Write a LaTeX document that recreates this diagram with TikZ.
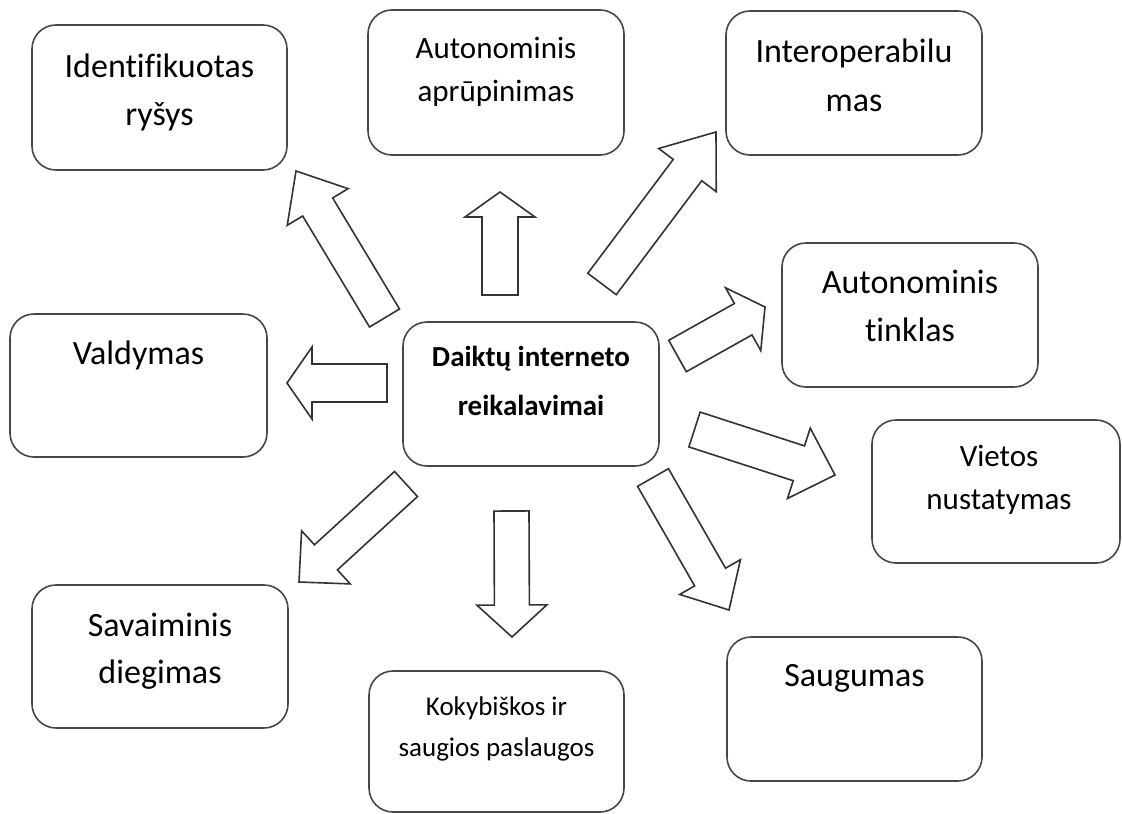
\documentclass[tikz,border=0pt]{standalone}
\usepackage{fontspec}
\setmainfont{Carlito}[Ligatures=NoCommon]
\usetikzlibrary{calc}
\tikzset{
  boxnode/.style={draw=black!72, line width=1.6pt, rounded corners=24pt, fill=white, inner sep=0pt},
  lbl/.style={anchor=base, inner sep=0pt, text=black},
  blockarr/.style={draw=black!80, line width=1.6pt, fill=white, line join=miter},
}
\newcommand\ml[3]{\fontsize{#1}{#2}\selectfont\setlength\tabcolsep{0pt}\begin{tabular}[t]{c}#3\end{tabular}}
\newcommand\blockarrow[5]{%
  \coordinate (#2-hb) at ($(#2)!#5pt!(#1)$);
  \draw[blockarr] ($(#1)!#3pt!90:(#2)$) -- ($(#2-hb)!#3pt!90:(#2)$) -- ($(#2-hb)!#4pt!90:(#2)$) -- (#2)
    -- ($(#2-hb)!#4pt!-90:(#2)$) -- ($(#2-hb)!#3pt!-90:(#2)$) -- ($(#1)!#3pt!-90:(#2)$) -- cycle;}
\begin{document}
\begin{tikzpicture}[x=1pt,y=-1pt]
\useasboundingbox (0,0) rectangle (1122,814);
% boxes
\node[boxnode, minimum width=255pt, minimum height=145pt] (b1) at (159.5,97.5) {};
\node[boxnode, minimum width=256pt, minimum height=145pt] (b2) at (496,82.5) {};
\node[boxnode, minimum width=256pt, minimum height=144pt] (b3) at (854,83) {};
\node[boxnode, minimum width=256pt, minimum height=144pt] (b4) at (910,315) {};
\node[boxnode, minimum width=248pt, minimum height=143pt] (b5) at (996,491.5) {};
\node[boxnode, minimum width=255pt, minimum height=144pt] (b6) at (854.5,709) {};
\node[boxnode, minimum width=255pt, minimum height=141pt] (b7) at (496.5,741.5) {};
\node[boxnode, minimum width=256pt, minimum height=143pt] (b8) at (160,656.5) {};
\node[boxnode, minimum width=257pt, minimum height=143pt] (b9) at (138.5,385.5) {};
\node[boxnode, minimum width=256pt, minimum height=144pt] (c) at (531,394) {};
% texts
\node[lbl] (t1) at (159.5,77) {\ml{34}{48}{Identifikuotas\\ryšys}};
\node[lbl] (t2) at (496,58) {\ml{31}{43}{Autonominis\\aprūpinimas}};
\node[lbl] (t3) at (854,62) {\ml{34}{49}{Interoperabilu\\mas}};
\node[lbl] (t4) at (910,293) {\ml{34}{48}{Autonominis\\tinklas}};
\node[lbl] (t5) at (999,466) {\ml{31}{43}{Vietos\\nustatymas}};
\node[lbl] (t6) at (854.5,686) {\ml{34}{47}{Saugumas}};
\node[lbl] (t7) at (496.5,715) {\ml{27}{41}{Kokybiškos ir\\saugios paslaugos}};
\node[lbl] (t8) at (160,636) {\ml{34}{47}{Savaiminis\\diegimas}};
\node[lbl] (t9) at (138.5,364) {\ml{34}{47}{Valdymas}};
\node[lbl] (tc) at (531,366) {\ml{29}{49}{\bfseries Daiktų interneto\\\bfseries reikalavimai}};
% arrow coordinates
\coordinate (aT) at (384.5,318); \coordinate (aP) at (296,171);
\coordinate (bT) at (500,295);   \coordinate (bP) at (500,192);
\coordinate (cT) at (602,284);   \coordinate (cP) at (716,132);
\coordinate (dT) at (677.5,356); \coordinate (dP) at (765,307);
\coordinate (eT) at (694.5,429.5); \coordinate (eP) at (835,475);
\coordinate (fT) at (653,477.5); \coordinate (fP) at (729,610);
\coordinate (gT) at (511.5,511); \coordinate (gP) at (512,637);
\coordinate (hT) at (406,484);   \coordinate (hP) at (299,582);
\coordinate (iT) at (387,383);   \coordinate (iP) at (287,383);
\blockarrow{aT}{aP}{17.5}{35.5}{42}
\blockarrow{bT}{bP}{18}{35}{25}
\blockarrow{cT}{cP}{17.8}{36}{47.6}
\blockarrow{dT}{dP}{18}{36}{25}
\blockarrow{eT}{eP}{18.3}{37}{38}
\blockarrow{fT}{fP}{17.8}{35}{38}
\blockarrow{gT}{gP}{17.5}{35}{32}
\blockarrow{hT}{hP}{17}{36}{36.5}
\blockarrow{iT}{iP}{19}{36}{25}
\end{tikzpicture}
\end{document}
